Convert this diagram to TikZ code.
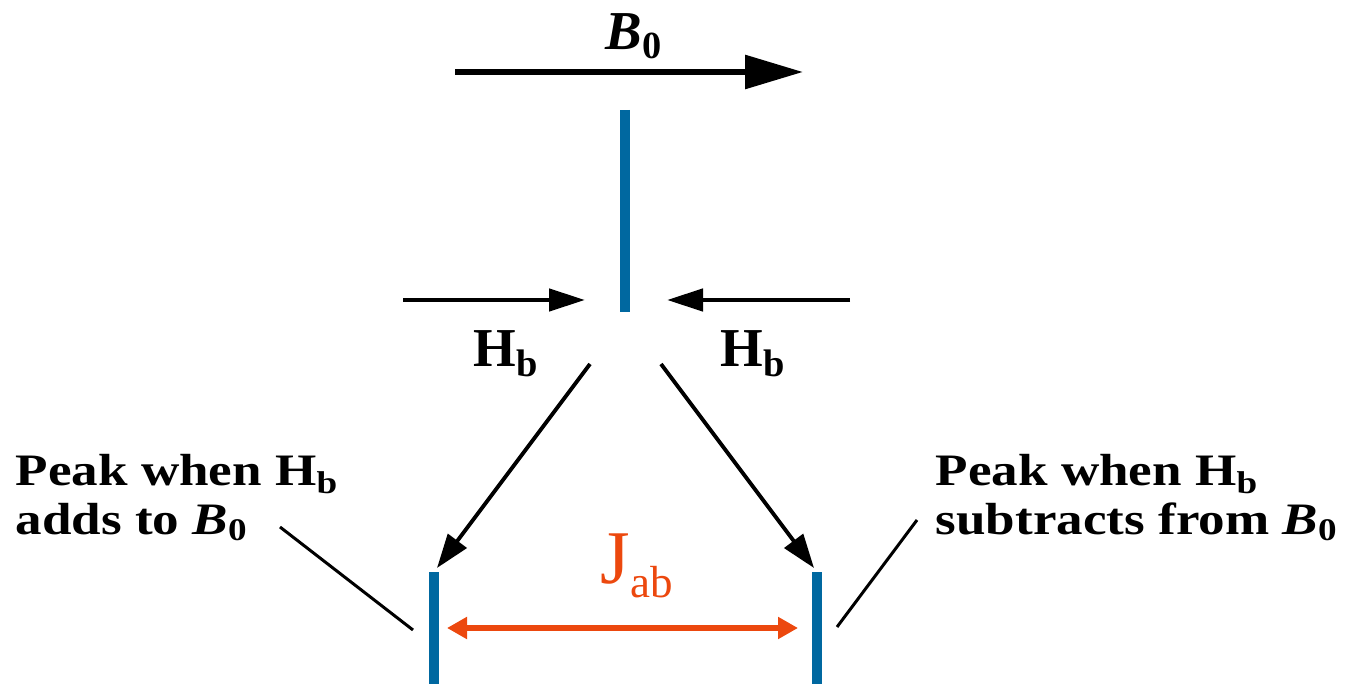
\documentclass[tikz,border=0pt]{standalone}
\usepackage{fontspec}
\setmainfont{Liberation Serif}
\newfontfamily\widefont{Liberation Serif}[FakeStretch=1.18]
\usetikzlibrary{arrows.meta}
\definecolor{peakblue}{RGB}{0,104,160}
\definecolor{jcolor}{RGB}{236,72,14}

\begin{document}
\begin{tikzpicture}[scale=1.0,
  peak/.style={peakblue, line width=3.1pt},
  hfield/.style={line width=1.3pt, -{Triangle[length=3.6mm, width=2.2mm]}},
  splitarrow/.style={line width=1.1pt, -{Triangle[length=3.4mm, width=2.3mm]}},
  lbl/.style={font=\fontsize{15.6}{15.6}\selectfont\bfseries, inner sep=0pt},
  peaktext/.style={font=\widefont\fontsize{12.8}{13.7}\selectfont\bfseries, align=left, anchor=north west, inner sep=0pt}]
  \useasboundingbox (0, 0) rectangle (13.51, 6.84);

  % static field B_0
  \coordinate (bstart) at (4.55, 6.12);
  \coordinate (bend) at (8.03, 6.12);
  \draw[line width=1.7pt, -{Triangle[length=5.8mm, width=3.3mm]}] (bstart) -- (bend);
  \node[lbl, anchor=base west] (bzero) at (6.05, 6.34) {\textit{B}\textsubscript{0}};

  % uncoupled line
  \coordinate (ctop) at (6.25, 5.74);
  \coordinate (cbot) at (6.25, 3.72);
  \draw[peak] (ctop) -- (cbot);

  % local field H_b from either side
  \coordinate (hleft) at (4.03, 3.84);
  \coordinate (hlefttip) at (5.85, 3.84);
  \coordinate (hright) at (8.50, 3.84);
  \coordinate (hrighttip) at (6.67, 3.84);
  \draw[hfield] (hleft) -- (hlefttip);
  \draw[hfield] (hright) -- (hrighttip);
  \node[lbl, anchor=base west] (hbleft) at (4.73, 3.17) {H\textsubscript{b}};
  \node[lbl, anchor=base west] (hbright) at (7.20, 3.17) {H\textsubscript{b}};

  % split lines
  \coordinate (pa) at (4.34, 1.12);
  \coordinate (pabot) at (4.34, 0);
  \coordinate (pb) at (8.17, 1.12);
  \coordinate (pbbot) at (8.17, 0);
  \draw[peak] (pa) -- (pabot);
  \draw[peak] (pb) -- (pbbot);

  \coordinate (sleft) at (5.90, 3.20);
  \coordinate (sright) at (6.61, 3.20);
  \draw[splitarrow, shorten >=0.5mm] (sleft) -- (pa);
  \draw[splitarrow, shorten >=0.5mm] (sright) -- (pb);

  % coupling constant
  \coordinate (ja) at (4.47, 0.56);
  \coordinate (jb) at (7.98, 0.56);
  \draw[jcolor, line width=1.7pt, {Triangle[length=2mm, width=2.1mm]}-{Triangle[length=2mm, width=2.1mm]}] (ja) -- (jb);
  \node[jcolor, inner sep=0pt, anchor=base west, font=\fontsize{21.6}{21.6}\selectfont] (jab) at (6.00, 1.01) {J\raisebox{-0.15cm}{\fontsize{12.8}{12.8}\selectfont ab}};

  % peak descriptions
  \node[peaktext] (addtext) at (0.15, 2.30) {Peak when H\textsubscript{b}\\adds to \textit{B}\textsubscript{0}};
  \node[peaktext] (subtext) at (9.35, 2.30) {Peak when H\textsubscript{b}\\subtracts from \textit{B}\textsubscript{0}};
  \coordinate (addfrom) at (2.80, 1.57);
  \coordinate (addto) at (4.13, 0.54);
  \coordinate (subfrom) at (9.17, 1.64);
  \coordinate (subto) at (8.37, 0.57);
  \draw[line width=0.85pt] (addfrom) -- (addto);
  \draw[line width=0.85pt] (subfrom) -- (subto);
\end{tikzpicture}
\end{document}
